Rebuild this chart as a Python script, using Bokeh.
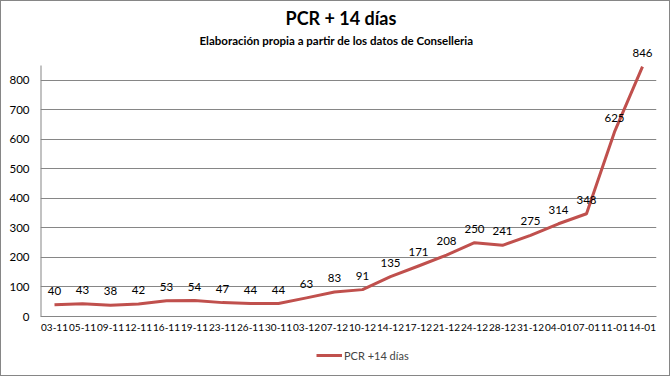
from bokeh.plotting import figure
from bokeh.layouts import column
from bokeh.models import (ColumnDataSource, LabelSet, FactorRange, Range1d,
                          FixedTicker, Legend, LegendItem, Title)
from bokeh.core.properties import value
from bokeh.embed import file_html
from bokeh.resources import INLINE

fechas = ["03-11", "05-11", "09-11", "12-11", "16-11", "19-11", "23-11", "26-11",
          "30-11", "03-12", "07-12", "10-12", "14-12", "17-12", "21-12", "24-12",
          "28-12", "31-12", "04-01", "07-01", "11-01", "14-01"]
pcr14 = [40, 43, 38, 42, 53, 54, 47, 44, 44, 63, 83, 91, 135, 171, 208, 250,
         241, 275, 314, 348, 625, 846]
yticks = [0, 100, 200, 300, 400, 500, 600, 700, 800]
y_axis_top = 850
title_text = "PCR + 14 días"
subtitle_text = "Elaboración propia a partir de los datos de Conselleria"
series_name = "PCR +14 días"

FONT = "Lato"
RED = "#C0504D"
GRAY = "#868686"

src = ColumnDataSource(dict(x=fechas, y=pcr14, lbl=[str(v) for v in pcr14]))

p = figure(width=668, height=336,
           x_range=FactorRange(factors=fechas), y_range=Range1d(0, 911),
           output_backend="svg", toolbar_location=None,
           min_border_left=39, min_border_right=13, min_border_top=46,
           min_border_bottom=21)
p.outline_line_color = None
p.background_fill_color = "white"
p.border_fill_color = "white"

p.xgrid.grid_line_color = None
p.ygrid.grid_line_color = GRAY
p.ygrid.grid_line_width = 1

p.yaxis.ticker = FixedTicker(ticks=yticks)
for ax in (p.xaxis, p.yaxis):
    ax.major_tick_out = 0
    ax.major_tick_in = 0
    ax.minor_tick_out = 0
    ax.minor_tick_in = 0
    ax.major_label_text_font = FONT
    ax.major_label_text_color = "black"
p.xaxis.axis_line_color = GRAY
p.yaxis.axis_line_color = None
p.yaxis.major_label_text_font_size = "11.5px"
p.yaxis.major_label_standoff = 11
p.xaxis.major_label_text_font_size = "10px"
p.xaxis.major_label_standoff = 7

# y axis line, stopping at the top of the value axis
p.segment(x0=[0], y0=[0], x1=[0], y1=[y_axis_top], line_color=GRAY, line_width=2)

r = p.line("x", "y", source=src, line_color=RED, line_width=3, line_join="round")

labels = LabelSet(x="x", y="y", text="lbl", source=src, y_offset=14,
                  text_align="center", text_baseline="middle",
                  text_font=value(FONT), text_font_size="11.5px", text_color="black")
p.add_layout(labels)

sub = Title(text=subtitle_text, align="left", offset=159, standoff=2,
            text_font=FONT, text_font_style="bold", text_font_size="11.5px",
            text_color="black")
ttl = Title(text=title_text, align="left", offset=245, standoff=4,
            text_font=FONT, text_font_style="bold", text_font_size="18px",
            text_color="black")
p.add_layout(sub, "above")
p.add_layout(ttl, "above")

# legend strip below the chart
p2 = figure(width=668, height=38, x_range=FactorRange(factors=fechas),
            y_range=Range1d(-20, -10), output_backend="svg", toolbar_location=None,
            min_border=0)
p2.axis.visible = False
p2.grid.grid_line_color = None
p2.outline_line_color = None
p2.background_fill_color = "white"
p2.border_fill_color = "white"
r2 = p2.line("x", "y", source=src, line_color=RED, line_width=3)
legend = Legend(items=[LegendItem(label=series_name, renderers=[r2])],
                location=(276, 13), orientation="horizontal",
                border_line_color=None, background_fill_alpha=0,
                glyph_width=26, glyph_height=14, label_text_font=FONT,
                label_text_font_size="11px", padding=0, margin=0, label_standoff=2)
p2.add_layout(legend, "center")

layout = column(p, p2, spacing=0, styles={"border": "1px solid #868686"})

open("out.html", "w").write(file_html(layout, INLINE))
